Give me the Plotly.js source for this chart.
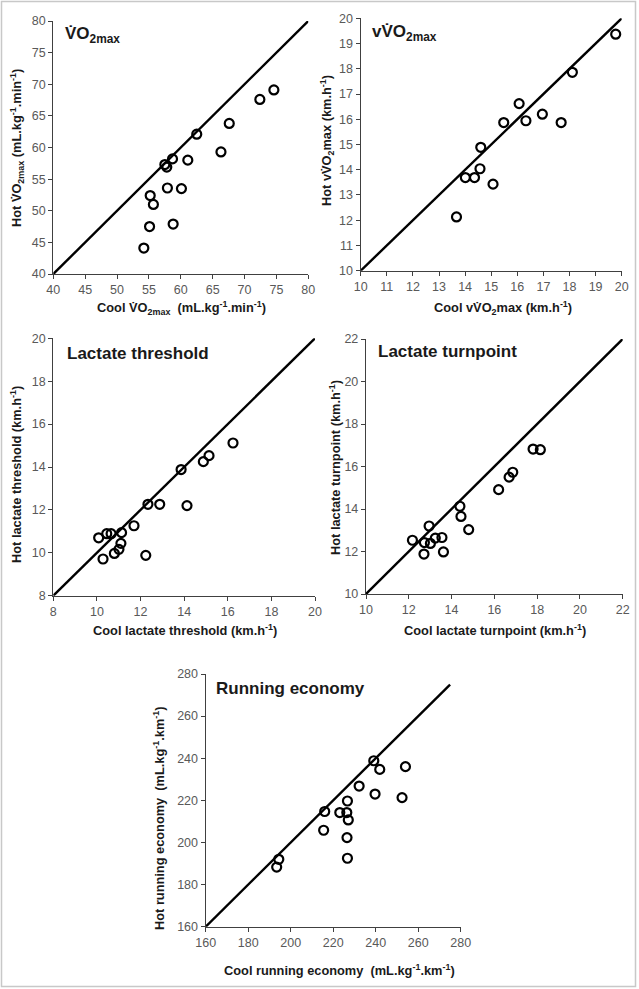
<!DOCTYPE html>
<html>
<head>
<meta charset="utf-8">
<script src="https://cdn.plot.ly/plotly-3.0.1.min.js"></script>
<style>html,body{margin:0;padding:0;background:#fff;}#chart{width:639px;height:989px;}</style>
</head>
<body>
<div id="chart"></div>
<script>
// ---- Data ----
const vo2Cool = [54.2, 55.1, 55.2, 55.7, 57.5, 57.8, 58.7, 57.9, 58.8, 60.1, 61.1, 62.5, 66.3, 67.6, 72.4, 74.6];
const vo2Hot  = [44.1, 47.5, 52.4, 51.0, 57.3, 56.9, 58.2, 53.6, 47.9, 53.5, 58.0, 62.1, 59.3, 63.8, 67.6, 69.1];
const vvo2Cool = [13.67, 14.01, 14.36, 14.57, 14.60, 15.07, 15.48, 16.07, 16.33, 16.96, 17.68, 18.11, 19.77];
const vvo2Hot  = [12.13, 13.69, 13.69, 14.04, 14.89, 13.43, 15.87, 16.62, 15.94, 16.20, 15.87, 17.86, 19.37];
const ltCool = [10.08, 10.28, 10.45, 10.65, 10.80, 11.01, 11.10, 11.13, 11.70, 12.24, 12.34, 12.88, 13.86, 14.13, 14.88, 15.14, 16.24];
const ltHot  = [10.70, 9.71, 10.89, 10.89, 9.97, 10.16, 10.44, 10.94, 11.26, 9.88, 12.26, 12.26, 13.88, 12.20, 14.25, 14.53, 15.12];
const ltpCool = [12.17, 12.71, 12.73, 12.95, 13.01, 13.24, 13.55, 13.62, 14.39, 14.44, 14.80, 16.20, 16.69, 16.86, 17.81, 18.15];
const ltpHot  = [12.53, 11.88, 12.42, 13.20, 12.38, 12.63, 12.66, 11.98, 14.13, 13.65, 13.03, 14.91, 15.50, 15.73, 16.82, 16.79];
const reCool = [193.4, 194.4, 215.5, 216.0, 223.1, 226.4, 226.7, 227.1, 226.5, 226.7, 232.2, 239.1, 239.7, 241.9, 252.4, 254.0];
const reHot  = [188.3, 192.0, 205.8, 214.7, 214.2, 214.2, 219.7, 210.7, 202.3, 192.5, 226.8, 238.8, 223.0, 234.7, 221.3, 236.0];
// identity lines (line of equality), endpoints
const diagVo2 = [40, 80];
const diagVvo2 = [10, 20];
const diagLt = [8, 20];
const diagLtp = [10, 22];
const diagRe = [160, 275];
// titles
const panelTitles = ['V̇O<sub>2max</sub>', 'vV̇O<sub>2max</sub>', 'Lactate threshold', 'Lactate turnpoint', 'Running economy'];
const xTitles = ['Cool V̇O<sub>2max</sub>  (mL.kg<sup>-1</sup>.min<sup>-1</sup>)', 'Cool vV̇O<sub>2</sub>max (km.h<sup>-1</sup>)', 'Cool lactate threshold (km.h<sup>-1</sup>)', 'Cool lactate turnpoint (km.h<sup>-1</sup>)', 'Cool running economy  (mL.kg<sup>-1</sup>.km<sup>-1</sup>)'];
const yTitles = ['Hot V̇O<sub>2max</sub> (mL.kg<sup>-1</sup>.min<sup>-1</sup>)', 'Hot vV̇O<sub>2</sub>max (km.h<sup>-1</sup>)', 'Hot lactate threshold (km.h<sup>-1</sup>)', 'Hot lactate turnpoint (km.h<sup>-1</sup>)', 'Hot running economy  (mL.kg<sup>-1</sup>.km<sup>-1</sup>)'];

// ---- Layout helpers ----
const W = 639, H = 989;
const px = x => x / W;
const py = y => 1 - y / H;
const FONT = 'Liberation Sans, Arial, sans-serif';

const panels = [
  {cx: vo2Cool, cy: vo2Hot, diag: diagVo2, range: [40, 80], dtick: 5, box: [53.3, 308.3, 21, 274], title: [63, 35], xt: [181, 308], yt: [17, 148]},
  {cx: vvo2Cool, cy: vvo2Hot, diag: diagVvo2, range: [10, 20], dtick: 1, box: [360.7, 621.7, 18.3, 270.7], title: [370, 33], xt: [503, 308], yt: [327, 140]},
  {cx: ltCool, cy: ltHot, diag: diagLt, range: [8, 20], dtick: 2, box: [53.3, 315, 338.3, 595.7], title: [65, 353], xt: [184.5, 630], yt: [16, 475]},
  {cx: ltpCool, cy: ltpHot, diag: diagLtp, range: [10, 22], dtick: 2, box: [366, 622.7, 339, 594], title: [376, 352], xt: [495, 630], yt: [335, 468]},
  {cx: reCool, cy: reHot, diag: diagRe, range: [160, 280], dtick: 20, box: [205.7, 460.7, 674, 926.7], title: [214, 688], xt: [339, 970], yt: [159, 818]}
];

const data = [];
const layout = {
  width: W, height: H,
  margin: {l: 0, r: 0, t: 0, b: 0},
  paper_bgcolor: '#fff', plot_bgcolor: '#fff',
  showlegend: false,
  font: {family: FONT, color: '#000'},
  annotations: [],
  shapes: [{type: 'rect', xref: 'paper', yref: 'paper', x0: px(1.5), x1: px(635.5), y0: py(986.5), y1: py(1.5), line: {color: '#c8c8c8', width: 1.5}}]
};

panels.forEach((p, i) => {
  const n = i === 0 ? '' : String(i + 1);
  const xa = 'x' + n, ya = 'y' + n;
  data.push({
    x: p.diag, y: p.diag, xaxis: xa, yaxis: ya, type: 'scatter', mode: 'lines',
    line: {color: '#000', width: 2.4}, hoverinfo: 'skip', cliponaxis: false
  });
  data.push({
    x: p.cx, y: p.cy, xaxis: xa, yaxis: ya, type: 'scatter', mode: 'markers',
    marker: {symbol: 'circle', size: 9, color: 'rgba(0,0,0,0)', line: {color: '#000', width: 2.2}},
    cliponaxis: false
  });
  const axCommon = {
    range: p.range, dtick: p.dtick, tick0: p.range[0], showgrid: false, zeroline: false,
    showline: true, linecolor: '#404040', linewidth: 1.2,
    ticks: 'outside', ticklen: 4, tickcolor: '#404040', tickwidth: 1,
    tickfont: {family: FONT, size: 12.5, color: '#595959'}, fixedrange: true
  };
  layout['xaxis' + n] = Object.assign({}, axCommon, {domain: [px(p.box[0]), px(p.box[1])], anchor: ya});
  layout['yaxis' + n] = Object.assign({}, axCommon, {domain: [py(p.box[3]), py(p.box[2])], anchor: xa});
  layout.annotations.push({
    text: panelTitles[i], xref: 'paper', yref: 'paper', x: px(p.title[0]), y: py(p.title[1]),
    xanchor: 'left', yanchor: 'middle', showarrow: false,
    font: {family: FONT, size: 17, color: '#1a1a1a', weight: 'bold'}
  });
  layout.annotations.push({
    text: xTitles[i], xref: 'paper', yref: 'paper', x: px(p.xt[0]), y: py(p.xt[1]),
    xanchor: 'center', yanchor: 'middle', showarrow: false,
    font: {family: FONT, size: 12.8, color: '#1a1a1a', weight: 'bold'}
  });
  layout.annotations.push({
    text: yTitles[i], xref: 'paper', yref: 'paper', x: px(p.yt[0]), y: py(p.yt[1]),
    xanchor: 'center', yanchor: 'middle', showarrow: false, textangle: -90,
    font: {family: FONT, size: 12.8, color: '#1a1a1a', weight: 'bold'}
  });
});

Plotly.newPlot('chart', data, layout, {staticPlot: true, displayModeBar: false});
</script>
</body>
</html>
